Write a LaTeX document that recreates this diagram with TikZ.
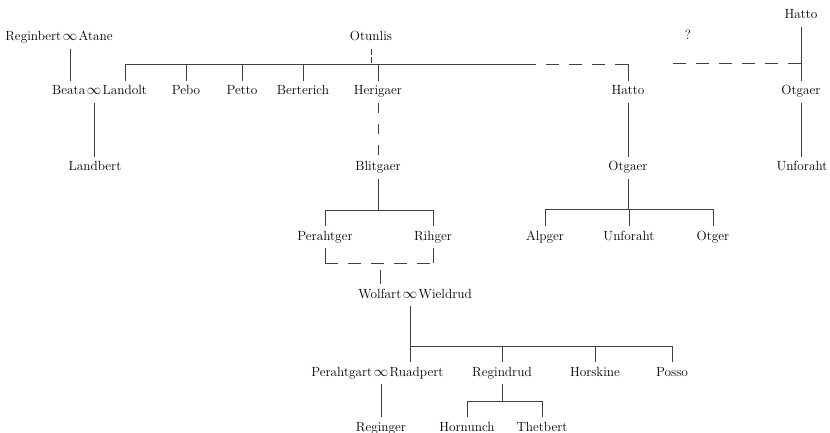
\documentclass[tikz,border=0pt]{standalone}
\begin{document}
\begin{tikzpicture}[x=1pt,y=-1pt,
  person/.style={inner xsep=0pt, inner ysep=0pt, outer xsep=0pt, outer ysep=5pt,
    text height=9pt, text depth=3pt, font=\fontsize{13.3}{15}\selectfont,
    text=black, anchor=base},
  link/.style={draw=black!75, line width=0.7pt},
  dashlink/.style={link, dash pattern=on 13pt off 10pt},
  vdash/.style={link, dash pattern=on 10pt off 11pt},
  shortdash/.style={link, dash pattern=on 6pt off 2pt}]
\useasboundingbox (0,0) rectangle (830,433);

% ---- couples ----
\node[person] (rinf) at (70,41) {$\infty$};
\node[person, anchor=base east] (reginbert) at ([xshift=-1.5pt]rinf.base west) {Reginbert};
\node[person, anchor=base west] (atane) at ([xshift=1.5pt]rinf.base east) {Atane};

\node[person] (binf) at (94,95) {$\infty$};
\node[person, anchor=base east] (beata) at ([xshift=-1.5pt]binf.base west) {Beata};
\node[person, anchor=base west] (landolt) at ([xshift=1.5pt]binf.base east) {Landolt};

\node[person] (winf) at (410,298) {$\infty$};
\node[person, anchor=base east] (wolfart) at ([xshift=-1.5pt]winf.base west) {Wolfart};
\node[person, anchor=base west] (wieldrud) at ([xshift=1.5pt]winf.base east) {Wieldrud};

\node[person] (pinf) at (381,376) {$\infty$};
\node[person, anchor=base east] (perahtgart) at ([xshift=-1.5pt]pinf.base west) {Perahtgart};
\node[person, anchor=base west] (ruadpert) at ([xshift=1.5pt]pinf.base east) {Ruadpert};

% ---- single persons ----
\node[person] (hatto2) at (801,19) {Hatto};
\node[person] (otunlis) at (371,41) {Otunlis};
\node[person] (qmark) at (688,40) {?};

\node[person] (pebo) at (186,95) {Pebo};
\node[person] (petto) at (242,95) {Petto};
\node[person] (berterich) at (303,95) {Berterich};
\node[person] (herigaer) at (378,95) {Herigaer};
\node[person] (hatto1) at (628,95) {Hatto};
\node[person] (otgaer2) at (801,95) {Otgaer};

\node[person] (landbert) at (95,171) {Landbert};
\node[person] (blitgaer) at (378,171) {Blitgaer};
\node[person] (otgaer1) at (628,171) {Otgaer};
\node[person] (unforaht2) at (802,171) {Unforaht};

\node[person] (perahtger) at (325,240) {Perahtger};
\node[person] (rihger) at (433,240) {Rihger};
\node[person] (alpger) at (545,240) {Alpger};
\node[person] (unforaht1) at (629,240) {Unforaht};
\node[person] (otger) at (713,240) {Otger};

\node[person] (regindrud) at (502,376) {Regindrud};
\node[person] (horskine) at (595,376) {Horskine};
\node[person] (posso) at (672,376) {Posso};

\node[person] (reginger) at (381,431) {Reginger};
\node[person] (hornunch) at (467,431) {Hornunch};
\node[person] (thetbert) at (542,431) {Thetbert};

% ---- bus levels ----
\coordinate (bus1) at (523,64);
\coordinate (qstart) at (663,63);
\coordinate (bus2) at (0,210);
\coordinate (bus3) at (0,263);
\coordinate (wtop) at (380,270);
\coordinate (bus4) at (0,346);
\coordinate (bus5) at (0,401);
\coordinate (bus6) at (0,209);

% ---- connectors ----
\draw[link] (rinf.south) -- (rinf.south |- beata.north);

\draw[shortdash] (otunlis.south) -- (otunlis.south |- bus1);
\draw[link] (landolt.north) -- (landolt.north |- bus1) -- (bus1);
\draw[link] (pebo.north) -- (pebo.north |- bus1);
\draw[link] (petto.north) -- (petto.north |- bus1);
\draw[link] (berterich.north) -- (berterich.north |- bus1);
\draw[link] (herigaer.north) -- (herigaer.north |- bus1);
\draw[link] (hatto1.north) -- (hatto1.north |- bus1) coordinate (c1);
\draw[dashlink] (c1) -- (bus1);

\draw[link] (hatto2.south) -- (otgaer2.north);
\draw[dashlink] (hatto2.south |- qstart) -- (qstart);
\draw[link] (otgaer2.south) -- (otgaer2.south |- unforaht2.north);

\draw[link] (binf.south) -- (binf.south |- landbert.north);
\draw[vdash] (herigaer.south) -- (blitgaer.north);

\draw[link] (blitgaer.south) -- (blitgaer.south |- bus2);
\draw[link] (perahtger.north) -- (perahtger.north |- bus2) -| (rihger.north);

\draw[link] (perahtger.south) -- (perahtger.south |- bus3) coordinate (bl);
\draw[link] (rihger.south) -- (rihger.south |- bus3) coordinate (br);
\draw[dashlink] (bl) -- (br);
\draw[link] (wtop) -- (wtop |- wolfart.north);

\draw[link] (winf.south) -- (winf.south |- ruadpert.north);
\draw[link] (winf.south |- bus4) -| (posso.north);
\draw[link] (regindrud.north) -- (regindrud.north |- bus4);
\draw[link] (horskine.north) -- (horskine.north |- bus4);

\draw[link] (pinf.south) -- (pinf.south |- reginger.north);
\draw[link] (regindrud.south) -- (regindrud.south |- bus5);
\draw[link] (hornunch.north) -- (hornunch.north |- bus5) -| (thetbert.north);

\draw[link] (hatto1.south) -- (hatto1.south |- otgaer1.north);
\draw[link] (otgaer1.south) -- (otgaer1.south |- bus6);
\draw[link] (alpger.north) -- (alpger.north |- bus6) -| (otger.north);
\draw[link] (unforaht1.north) -- (unforaht1.north |- bus6);
\end{tikzpicture}
\end{document}
